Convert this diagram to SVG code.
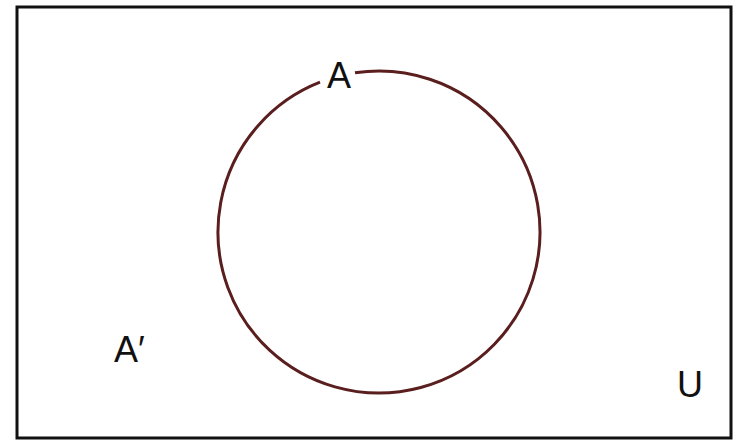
<svg xmlns="http://www.w3.org/2000/svg" width="735" height="443" viewBox="0 0 735 443">
<style>
.lbl{font-family:"Liberation Sans",Arial,sans-serif;font-size:36px;fill:#111}
</style>
<rect width="735" height="443" fill="#fff"/>
<g id="universe">
<rect x="17" y="7" width="714" height="431" fill="none" stroke="#111" stroke-width="3"/>
<text class="lbl" x="677" y="397">U</text>
</g>
<g id="setA">
<path d="M 355 72.8 A 161 161 0 1 1 320 82.2" fill="none" stroke="#5a1e1e" stroke-width="3"/>
<text class="lbl" x="327" y="88">A</text>
</g>
<g id="complement">
<text class="lbl" x="114" y="362">A′</text>
</g>
</svg>
